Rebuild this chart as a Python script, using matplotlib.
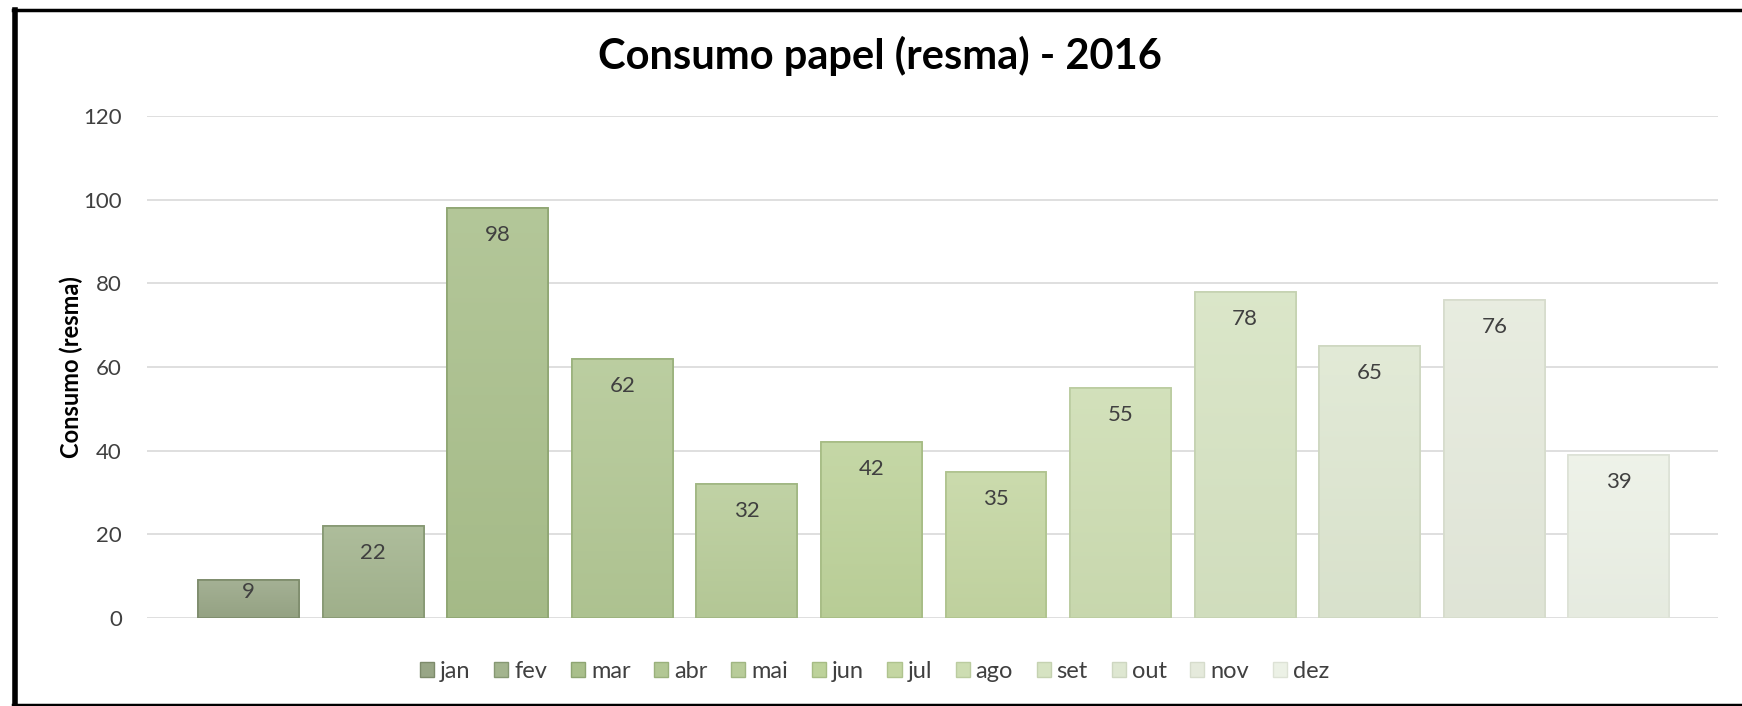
import matplotlib
matplotlib.use("Agg")
import matplotlib.pyplot as plt
import numpy as np
from matplotlib.colors import to_rgb
from matplotlib.lines import Line2D

# consumo mensal de papel em 2016
meses = ["jan", "fev", "mar", "abr", "mai", "jun", "jul", "ago", "set", "out", "nov", "dez"]
consumo = [9, 22, 98, 62, 32, 42, 35, 55, 78, 65, 76, 39]
cores = ["#98A686", "#A3B48E", "#A9BF8B", "#B2C794", "#B8CC99", "#BDD29A",
         "#C4D6A2", "#CDDDB2", "#D6E3C2", "#DEE7D1", "#E5EADC", "#ECF1E6"]
bordas = ["#7D8B6B", "#869873", "#8EA572", "#9AB17C", "#A0B682", "#A6BC84",
          "#AFC38E", "#BBCCA0", "#C5D2B1", "#CED7C1", "#D6DCCC", "#DDE2D6"]
yticks = [0, 20, 40, 60, 80, 100, 120]

plt.rcParams["font.family"] = ["Lato", "DejaVu Sans"]

fig = plt.figure(figsize=(17.42, 7.06), dpi=100)
ax = fig.add_axes([147 / 1742, 1 - 618 / 706, (1718 - 147) / 1742, (618 - 116) / 706])

barras = []
for i, (m, v) in enumerate(zip(meses, consumo)):
    b = ax.bar(i, v, width=0.81, color=cores[i], edgecolor=bordas[i], linewidth=1.2,
               label=m, zorder=3)
    barras.append(b[0])
    # rótulo dentro da barra, perto do topo
    y_rot = max(v - 6.5, v * 0.7)
    ax.text(i, y_rot, str(v), ha="center", va="center", fontsize=16,
            color="#404040", zorder=5)

# leve degradê vertical em cada barra (mais claro no topo)
for ret, c in zip(barras, cores):
    c = np.array(to_rgb(c))
    topo = c + (1 - c) * 0.12
    base = c * 0.975
    t = np.linspace(0, 1, 64)[:, None]
    grad = base + (topo - base) * t
    x0, y0 = ret.get_x(), ret.get_y()
    img = ax.imshow(grad[:, None, :], extent=(x0, x0 + ret.get_width(), y0, y0 + ret.get_height()),
                    origin="lower", aspect="auto", zorder=3.5, interpolation="bilinear")
    img.set_clip_path(ret)
    ret.set_facecolor("none")
    ax.add_patch(plt.Rectangle((x0, y0), ret.get_width(), ret.get_height(), fill=False,
                               edgecolor=ret.get_edgecolor(), linewidth=1.2, zorder=4))

ax.set_xlim(-0.815, 11.795)
ax.set_ylim(0, 120)
ax.set_yticks(yticks)
ax.set_xticks([])
ax.grid(axis="y", color="#D9D9D9", linewidth=1.2, zorder=0)
for s in ["top", "right", "left", "bottom"]:
    ax.spines[s].set_visible(False)
ax.tick_params(axis="y", length=0, pad=18, labelsize=16, labelcolor="#404040")
ax.set_ylabel("Consumo (resma)", fontsize=17, fontweight="bold", labelpad=0)

fig.text(0.505, 1 - 56 / 706, "Consumo papel (resma) - 2016", ha="center", va="center",
         fontsize=30, fontweight="bold", color="black")

# legenda com as cores de preenchimento
handles = [plt.Rectangle((0, 0), 1, 1, facecolor=c, edgecolor=e, linewidth=1)
           for c, e in zip(cores, bordas)]
fig.legend(handles, meses, loc="center", bbox_to_anchor=(0.502, 1 - 671 / 706), ncol=12,
           frameon=False, fontsize=17, handlelength=0.6, handleheight=0.6,
           handletextpad=0.25, columnspacing=1.0, labelcolor="#404040")

# moldura preta: esquerda, topo e base
fig.add_artist(Line2D([14.5 / 1742, 14.5 / 1742], [1.5 / 706, 1 - 10 / 706],
                      transform=fig.transFigure, color="black", linewidth=4))
fig.add_artist(Line2D([12.5 / 1742, 1.0], [1 - 10 / 706, 1 - 10 / 706],
                      transform=fig.transFigure, color="black", linewidth=2.5))
fig.add_artist(Line2D([12.5 / 1742, 1.0], [1.5 / 706, 1.5 / 706],
                      transform=fig.transFigure, color="black", linewidth=2.5))

fig.savefig("out.png", dpi=100, facecolor="white")
